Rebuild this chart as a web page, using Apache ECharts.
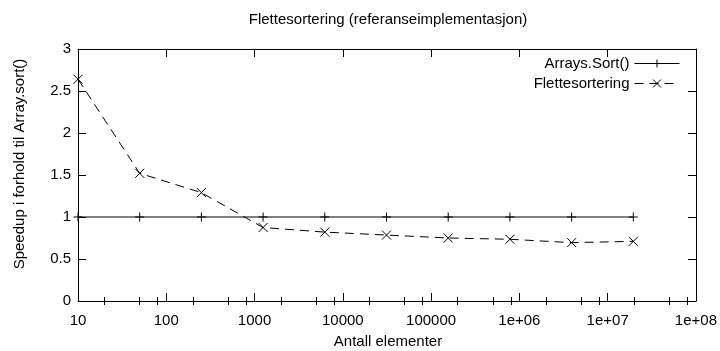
<!DOCTYPE html>
<html>
<head>
<meta charset="utf-8">
<script src="https://cdn.jsdelivr.net/npm/echarts@6/dist/echarts.min.js"></script>
<style>
html,body{margin:0;padding:0;background:#fff;}
#chart{width:720px;height:351px;}
</style>
</head>
<body>
<div id="chart"></div>
<script>
// ---- data ----
var titleText = 'Flettesortering (referanseimplementasjon)';
var xAxisName = 'Antall elementer';
var yAxisName = 'Speedup i forhold til Array.sort()';
var seriesNames = ['Arrays.Sort()', 'Flettesortering'];
var elementCounts = [10, 50, 250, 1250, 6250, 31250, 156250, 781250, 3906250, 19531250];
var arraysSortSpeedup = [1, 1, 1, 1, 1, 1, 1, 1, 1, 1];
var fletteSpeedup = [2.64, 1.52, 1.29, 0.875, 0.82, 0.785, 0.75, 0.735, 0.695, 0.71];
var xTickValues = [10, 100, 1000, 10000, 100000, 1e6, 1e7, 1e8];
var xTickLabels = ['10', '100', '1000', '10000', '100000', '1e+06', '1e+07', '1e+08'];
var xMinorTickValues = [];
xTickValues.slice(0, -1).forEach(function (d) { [2, 5, 8].forEach(function (m) { xMinorTickValues.push(d * m); }); });

var FONT = '"Liberation Sans", Arial, Helvetica, sans-serif';
var PLUS = 'path://M0,5L10,5M5,0L5,10';
var CROSS = 'path://M0,0L10,10M10,0L0,10';

function pairs(xs, ys) { return xs.map(function (x, i) { return [x, ys[i]]; }); }

var grid = { left: 78, right: 23, top: 49, bottom: 50 };

function logAxis(extra) {
  var base = {
    type: 'log', logBase: 10, min: 10, max: 1e8, gridIndex: 0,
    axisLine: { show: true, onZero: false, lineStyle: { color: '#000', width: 1 } },
    axisTick: { show: true, inside: true, length: 8, lineStyle: { color: '#000', width: 1 } },
    axisLabel: { show: false },
    splitLine: { show: false },
    minorTick: { show: false }
  };
  return Object.assign(base, extra);
}

var chart = echarts.init(document.getElementById('chart'), null, { renderer: 'canvas' });
var option = {
  animation: false,
  backgroundColor: '#fff',
  grid: grid,
  legend: {
    orient: 'vertical',
    right: 35,
    top: 51,
    align: 'right',
    itemWidth: 45,
    itemHeight: 10,
    itemGap: 5,
    lineStyle: { width: 1 },
    itemStyle: { borderWidth: 1 },
    textStyle: { fontFamily: FONT, fontSize: 15, color: '#000' },
    data: seriesNames
  },
  xAxis: [
    logAxis({
      position: 'bottom',
      axisLabel: {
        show: true, margin: 12, color: '#000', fontFamily: FONT, fontSize: 15,
        showMinLabel: true, showMaxLabel: true,
        customValues: xTickValues,
        formatter: function (v) {
          var i = Math.round(Math.log10(v)) - 1;
          return xTickLabels[i] !== undefined ? xTickLabels[i] : '';
        }
      },
      axisTick: { show: true, inside: true, length: 8, customValues: xTickValues, lineStyle: { color: '#000', width: 1 } }
    }),
    logAxis({
      position: 'bottom',
      axisLine: { show: false },
      axisTick: { show: true, inside: true, length: 4, customValues: xMinorTickValues, lineStyle: { color: '#000', width: 1 } }
    }),
    logAxis({
      position: 'top',
      axisTick: { show: true, inside: true, length: 8, customValues: xTickValues, lineStyle: { color: '#000', width: 1 } }
    }),
    logAxis({
      position: 'top',
      axisLine: { show: false },
      axisTick: { show: true, inside: true, length: 4, customValues: xMinorTickValues, lineStyle: { color: '#000', width: 1 } }
    })
  ],
  yAxis: [
    {
      type: 'value', min: 0, max: 3, interval: 0.5, position: 'left',
      axisLine: { show: true, onZero: false, lineStyle: { color: '#000', width: 1 } },
      axisTick: { show: true, inside: true, length: 8, lineStyle: { color: '#000', width: 1 } },
      axisLabel: { show: true, margin: 7, color: '#000', fontFamily: FONT, fontSize: 15 },
      splitLine: { show: false }
    },
    {
      type: 'value', min: 0, max: 3, interval: 0.5, position: 'right',
      axisLine: { show: true, onZero: false, lineStyle: { color: '#000', width: 1 } },
      axisTick: { show: true, inside: true, length: 8, lineStyle: { color: '#000', width: 1 } },
      axisLabel: { show: false },
      splitLine: { show: false }
    }
  ],
  series: [
    {
      name: seriesNames[0],
      type: 'line',
      xAxisIndex: 0, yAxisIndex: 0,
      data: pairs(elementCounts, arraysSortSpeedup),
      symbol: PLUS,
      symbolSize: 9,
      showAllSymbol: true,
      lineStyle: { color: '#000', width: 1, type: 'solid' },
      itemStyle: { color: '#000', borderColor: '#000', borderWidth: 1 },
      z: 3
    },
    {
      name: seriesNames[1],
      type: 'line',
      xAxisIndex: 0, yAxisIndex: 0,
      data: pairs(elementCounts, fletteSpeedup),
      symbol: CROSS,
      symbolSize: 9,
      showAllSymbol: true,
      lineStyle: { color: '#000', width: 1, type: [9, 6] },
      itemStyle: { color: '#000', borderColor: '#000', borderWidth: 1 },
      z: 4
    }
  ],
  graphic: [
    { type: 'text', x: 388, y: 20, style: { text: titleText, font: '15px ' + FONT, fill: '#000', textAlign: 'center', textVerticalAlign: 'middle' } },
    { type: 'text', x: 388, y: 342, style: { text: xAxisName, font: '15px ' + FONT, fill: '#000', textAlign: 'center', textVerticalAlign: 'middle' } },
    { type: 'text', x: 20, y: 164, rotation: Math.PI / 2, style: { text: yAxisName, font: '15px ' + FONT, fill: '#000', textAlign: 'center', textVerticalAlign: 'middle' } }
  ]
};
chart.setOption(option);
</script>
</body>
</html>
